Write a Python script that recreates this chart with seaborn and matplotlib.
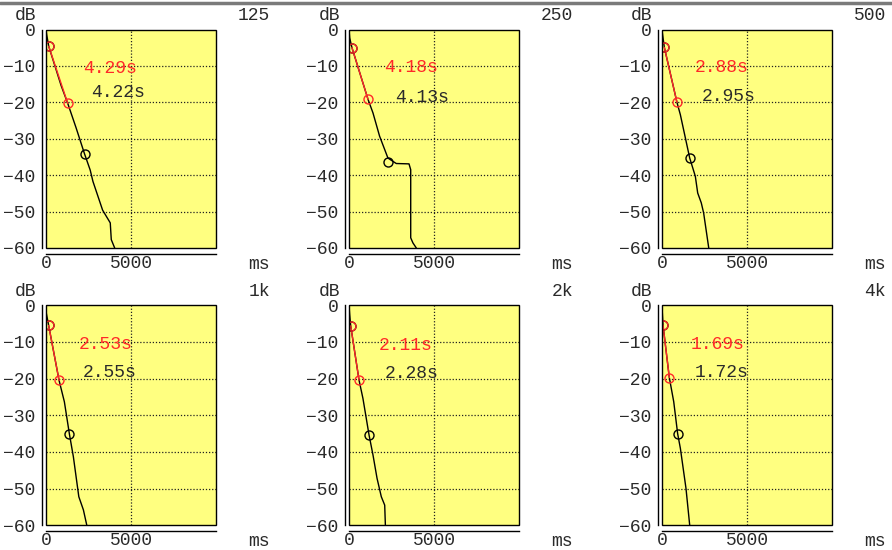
import numpy as np
import pandas as pd
import matplotlib
matplotlib.use("Agg")
import matplotlib.pyplot as plt
import seaborn as sns
from matplotlib.lines import Line2D
from matplotlib.patches import Rectangle

# ---------------- data ----------------
bands = ["125", "250", "500", "1k", "2k", "4k"]

t_125 = [0, 39, 160, 890, 1280, 1770, 2270, 2600, 2760, 3330, 3780, 3840, 4040]
db_125 = [0, -1.4, -4.6, -15.4, -20.3, -27.0, -34.2, -38.6, -41.7, -49.6, -53.1, -57.7, -60]

t_250 = [0, 40, 175, 1120, 1410, 1800, 2290, 2780, 3530, 3630, 3630, 3760, 3960]
db_250 = [0, -2.3, -5.0, -19.2, -22.9, -29.3, -35.3, -36.8, -36.9, -38.5, -57.2, -58.6, -60]

t_500 = [0, 137, 880, 1080, 1630, 1960, 2100, 2310, 2450, 2750]
db_500 = [-0.2, -4.9, -20.0, -23.4, -35.3, -40.3, -44.9, -47.6, -50.4, -60]

t_1k = [0, 20, 157, 770, 1080, 1380, 1610, 1930, 2200, 2400]
db_1k = [0, -2.2, -5.5, -20.5, -26.3, -35.2, -41.3, -52.2, -55.8, -60]

t_2k = [0, 40, 100, 590, 820, 1180, 1410, 1650, 1900, 2100, 2140]
db_2k = [0, -2.6, -5.6, -20.4, -25.4, -35.4, -40.8, -47.2, -52.2, -54.5, -60]

t_4k = [0, 60, 430, 690, 920, 1080, 1410, 1630]
db_4k = [-0.4, -5.4, -19.7, -26.3, -35.0, -39.0, -49.9, -60]

curves_t = [t_125, t_250, t_500, t_1k, t_2k, t_4k]
curves_db = [db_125, db_250, db_500, db_1k, db_2k, db_4k]

# red fit points (start, end) and black end point
red_t = [[160, 1280], [175, 1120], [137, 880], [157, 770], [100, 590], [60, 430]]
red_db = [[-4.6, -20.3], [-5.0, -19.2], [-4.9, -20.0], [-5.5, -20.5], [-5.6, -20.4], [-5.4, -19.7]]
blk_t = [2270, 2290, 1630, 1380, 1180, 920]
blk_db = [-34.2, -36.4, -35.3, -35.2, -35.4, -35.0]

red_labels = ["4.29s", "4.18s", "2.88s", "2.53s", "2.11s", "1.69s"]
blk_labels = ["4.22s", "4.13s", "2.95s", "2.55s", "2.28s", "1.72s"]
red_lab_pos = [(2170, -10.8), (2060, -10.3), (1920, -10.5), (1910, -10.8), (1745, -11.1), (1705, -10.8)]
blk_lab_pos = [(2640, -17.4), (2690, -18.8), (2310, -18.3), (2165, -18.4), (2100, -18.7), (1920, -18.4)]

y_ticks = [0, -10, -20, -30, -40, -50, -60]
x_ticks = [0, 5000, 10000]
x_tick_labels = ["0", "5000", ""]

# ---------------- style ----------------
sns.set_theme(style="white")
plt.rcParams["font.family"] = ["Liberation Mono", "DejaVu Sans Mono"]

W, H = 892, 550
fig = plt.figure(figsize=(W / 100, H / 100), dpi=100)
fig.patch.set_facecolor("white")

# layout in pixels (left, top, width, height)
lefts = [46, 349, 662]
tops = [29.5, 305.3]
heights = [218.5, 220.0]
pw = 170

YELLOW = "#FFFF80"
RED = "#FF2828"
TXT = "#2a2a2a"
FS = 13

# top gray rule
fig.add_artist(Line2D([0, 1], [1 - 3 / H, 1 - 3 / H], transform=fig.transFigure,
                      color="#7a7a7a", lw=2.5))

for i, band in enumerate(bands):
    r, c = divmod(i, 3)
    lx, ty, ph = lefts[c], tops[r], heights[r]
    ax = fig.add_axes([lx / W, 1 - (ty + ph) / H, pw / W, ph / H])
    ax.set_facecolor(YELLOW)

    ax.set_xlim(0, 10000)
    ax.set_ylim(-60, 0)
    ax.set_xticks(x_ticks)
    ax.set_xticklabels(x_tick_labels)
    ax.set_yticks(y_ticks)

    # dotted grid
    for yv in y_ticks[1:-1]:
        ax.axhline(yv, color="#222222", lw=0.9, ls=(0, (1, 1.5)), zorder=1)
    ax.axvline(5000, color="#222222", lw=0.9, ls=(0, (1, 1.5)), zorder=1)

    df = pd.DataFrame({"t": curves_t[i], "db": curves_db[i]})
    sns.lineplot(data=df, x="t", y="db", ax=ax, sort=False, estimator=None,
                 color="black", lw=1.0, zorder=3)

    dfr = pd.DataFrame({"t": red_t[i], "db": red_db[i]})
    sns.lineplot(data=dfr, x="t", y="db", ax=ax, sort=False, estimator=None,
                 color=RED, lw=1.0, zorder=4)

    # black circles (start + end of T30)
    ax.plot([red_t[i][0], blk_t[i]], [red_db[i][0], blk_db[i]], ls="none",
            marker="o", ms=6.5, mfc="none", mec="black", mew=1.0, zorder=5)
    ax.plot(red_t[i], red_db[i], ls="none", marker="o", ms=6.5, mfc="none",
            mec=RED, mew=1.0, zorder=6)

    ax.text(*red_lab_pos[i], red_labels[i], color=RED, fontsize=FS,
            ha="left", va="center", zorder=7)
    ax.text(*blk_lab_pos[i], blk_labels[i], color=TXT, fontsize=FS,
            ha="left", va="center", zorder=7)

    ax.set_xlabel("")
    ax.set_ylabel("")

    # axes: offset left/bottom spines, no top/right
    for s in ["top", "right"]:
        ax.spines[s].set_visible(False)
    ax.spines["left"].set_position(("outward", 3))
    ax.spines["bottom"].set_position(("outward", 4))
    ax.spines["left"].set_color("black")
    ax.spines["bottom"].set_color("black")
    ax.spines["left"].set_linewidth(1.0)
    ax.spines["bottom"].set_linewidth(1.0)
    ax.tick_params(axis="both", which="both", direction="out", length=2.5,
                   width=1.0, color="black", labelsize=FS, labelcolor=TXT, pad=2)
    ax.tick_params(axis="x", pad=-1.5)

    # box frame
    ax.add_patch(Rectangle((0, 0), 1, 1, transform=ax.transAxes, fill=False,
                           edgecolor="black", lw=1.0, zorder=8, clip_on=False))

    # labels around panel
    fig.text((lx - 20) / W, 1 - (ty - 13.5) / H, "dB", fontsize=FS, color=TXT,
             ha="center", va="center")
    fig.text((lx + 224) / W, 1 - (ty - 14) / H, band, fontsize=FS, color=TXT,
             ha="right", va="center")
    fig.text((lx + 224) / W, 1 - (ty + ph + 16.5) / H, "ms", fontsize=FS, color=TXT,
             ha="right", va="center")

fig.savefig("out.png", dpi=100, facecolor="white")
